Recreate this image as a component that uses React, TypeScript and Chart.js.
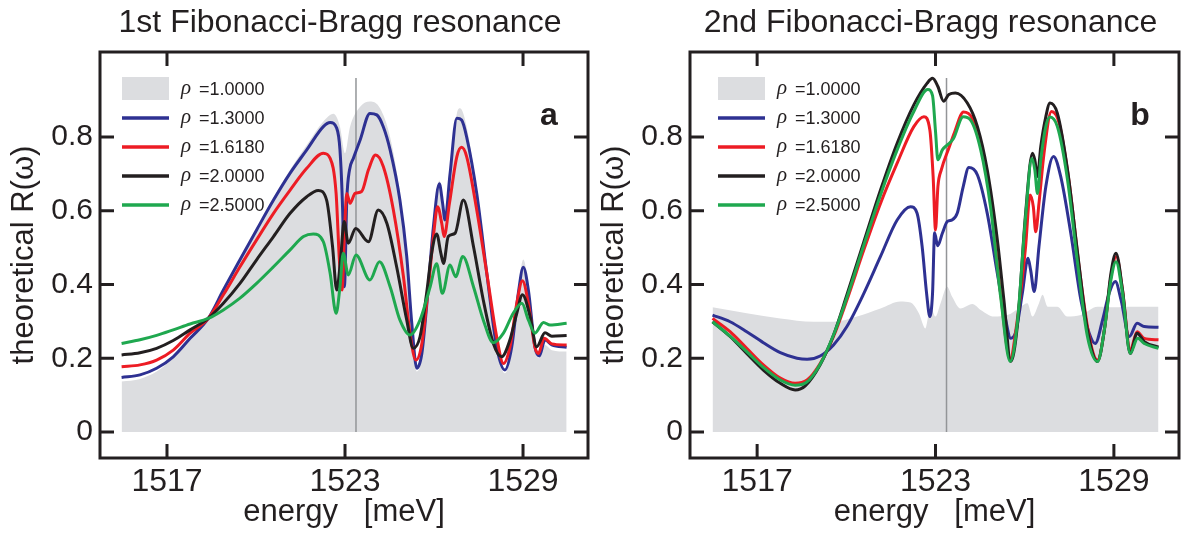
import React, { useEffect, useRef } from 'react';
import { Chart, registerables } from 'chart.js';

Chart.register(...registerables);

// ---------- data ----------
const rhoLabels = ['1.0000', '1.3000', '1.6180', '2.0000', '2.5000'];
const xTicks = [1517, 1523, 1529];
const yTicks = [0, 0.2, 0.4, 0.6, 0.8];
const markerEnergy = 1523.37;
const markerTop = 0.96;

type Pt = [number, number];

// panel a : 1st Fibonacci-Bragg resonance
const aGray: Pt[] = [[1515.47,0.137],[1516.09,0.144],[1516.65,0.164],[1517.21,0.200],[1517.78,0.251],[1518.39,0.311],[1518.90,0.387],[1519.46,0.469],[1520.02,0.552],[1520.59,0.636],[1521.15,0.711],[1521.71,0.778],[1522.27,0.842],[1522.61,0.863],[1522.83,0.828],[1523.00,0.756],[1523.17,0.828],[1523.51,0.882],[1523.84,0.896],[1524.18,0.878],[1524.52,0.800],[1524.85,0.647],[1525.08,0.485],[1525.25,0.295],[1525.42,0.164],[1525.59,0.204],[1525.75,0.340],[1525.98,0.561],[1526.18,0.682],[1526.37,0.589],[1526.54,0.711],[1526.77,0.864],[1526.88,0.878],[1527.10,0.828],[1527.44,0.656],[1527.78,0.435],[1528.11,0.231],[1528.39,0.159],[1528.62,0.227],[1528.84,0.385],[1529.01,0.468],[1529.18,0.394],[1529.40,0.227],[1529.55,0.200],[1529.74,0.236],[1529.97,0.222],[1530.47,0.218]];
const aBlue: Pt[] = [[1515.47,0.148],[1516.09,0.155],[1516.65,0.173],[1517.21,0.204],[1517.78,0.254],[1518.39,0.308],[1518.90,0.385],[1519.46,0.467],[1520.02,0.548],[1520.59,0.629],[1521.15,0.702],[1521.71,0.765],[1522.27,0.828],[1522.50,0.839],[1522.72,0.824],[1522.83,0.765],[1522.92,0.602],[1522.98,0.394],[1523.06,0.630],[1523.15,0.710],[1523.28,0.742],[1523.51,0.792],[1523.84,0.864],[1524.07,0.860],[1524.29,0.828],[1524.52,0.765],[1524.85,0.629],[1525.08,0.476],[1525.25,0.295],[1525.42,0.173],[1525.59,0.213],[1525.75,0.340],[1525.98,0.557],[1526.18,0.673],[1526.29,0.620],[1526.37,0.575],[1526.54,0.700],[1526.77,0.851],[1526.93,0.846],[1527.10,0.800],[1527.44,0.647],[1527.78,0.430],[1528.11,0.231],[1528.39,0.168],[1528.62,0.231],[1528.84,0.376],[1529.01,0.447],[1529.18,0.385],[1529.40,0.231],[1529.55,0.206],[1529.74,0.250],[1529.97,0.236],[1530.47,0.230]];
const aRed: Pt[] = [[1515.47,0.177],[1516.09,0.182],[1516.65,0.195],[1517.21,0.222],[1517.78,0.268],[1518.39,0.308],[1518.90,0.372],[1519.46,0.448],[1520.02,0.521],[1520.59,0.593],[1521.15,0.656],[1521.71,0.715],[1522.27,0.756],[1522.50,0.742],[1522.70,0.647],[1522.81,0.467],[1522.90,0.385],[1522.99,0.557],[1523.06,0.647],[1523.17,0.620],[1523.34,0.647],[1523.56,0.652],[1523.79,0.711],[1524.03,0.751],[1524.29,0.720],[1524.63,0.602],[1524.97,0.421],[1525.19,0.268],[1525.39,0.195],[1525.59,0.240],[1525.81,0.394],[1525.98,0.530],[1526.12,0.611],[1526.26,0.566],[1526.34,0.530],[1526.52,0.620],[1526.77,0.747],[1526.93,0.772],[1527.10,0.747],[1527.44,0.602],[1527.78,0.430],[1528.11,0.259],[1528.34,0.186],[1528.56,0.231],[1528.79,0.349],[1528.98,0.410],[1529.18,0.349],[1529.40,0.231],[1529.52,0.213],[1529.71,0.254],[1529.97,0.239],[1530.47,0.236]];
const aBlack: Pt[] = [[1515.47,0.209],[1516.09,0.215],[1516.65,0.227],[1517.21,0.248],[1517.78,0.277],[1518.39,0.308],[1518.90,0.349],[1519.46,0.403],[1520.02,0.467],[1520.59,0.530],[1521.15,0.593],[1521.71,0.638],[1522.10,0.655],[1522.38,0.629],[1522.58,0.503],[1522.72,0.385],[1522.85,0.467],[1522.97,0.571],[1523.11,0.512],[1523.36,0.552],[1523.79,0.516],[1524.12,0.602],[1524.41,0.566],[1524.74,0.448],[1525.08,0.304],[1525.30,0.227],[1525.53,0.259],[1525.75,0.376],[1525.92,0.485],[1526.09,0.537],[1526.23,0.485],[1526.32,0.457],[1526.48,0.530],[1526.71,0.539],[1526.99,0.629],[1527.33,0.503],[1527.66,0.358],[1528.00,0.240],[1528.28,0.204],[1528.56,0.250],[1528.79,0.322],[1528.98,0.372],[1529.24,0.313],[1529.46,0.231],[1529.74,0.269],[1529.97,0.260],[1530.47,0.262]];
const aGreen: Pt[] = [[1515.47,0.240],[1516.09,0.250],[1516.65,0.262],[1517.21,0.277],[1517.78,0.293],[1518.39,0.308],[1518.90,0.331],[1519.46,0.363],[1520.02,0.403],[1520.59,0.448],[1521.15,0.494],[1521.60,0.530],[1521.93,0.537],[1522.27,0.516],[1522.50,0.430],[1522.70,0.322],[1522.83,0.394],[1522.94,0.485],[1523.11,0.426],[1523.37,0.480],[1523.84,0.412],[1524.16,0.462],[1524.52,0.394],[1524.85,0.304],[1525.19,0.263],[1525.53,0.304],[1525.87,0.394],[1526.09,0.456],[1526.28,0.376],[1526.54,0.453],[1526.73,0.421],[1526.97,0.476],[1527.33,0.394],[1527.66,0.304],[1528.00,0.242],[1528.34,0.268],[1528.67,0.322],[1528.96,0.349],[1529.18,0.304],[1529.40,0.268],[1529.69,0.297],[1529.91,0.290],[1530.47,0.295]];

// panel b : 2nd Fibonacci-Bragg resonance
const bGray: Pt[] = [[1515.50,0.338],[1516.65,0.322],[1517.78,0.308],[1518.90,0.299],[1519.57,0.299],[1520.36,0.313],[1521.15,0.335],[1521.82,0.354],[1522.16,0.351],[1522.44,0.322],[1522.66,0.281],[1522.83,0.340],[1523.00,0.313],[1523.17,0.349],[1523.39,0.394],[1523.56,0.367],[1523.84,0.335],[1524.24,0.347],[1524.52,0.331],[1524.97,0.313],[1525.42,0.317],[1525.87,0.340],[1526.09,0.349],[1526.26,0.313],[1526.48,0.349],[1526.60,0.372],[1526.77,0.340],[1527.10,0.340],[1527.44,0.313],[1527.89,0.317],[1528.45,0.340],[1529.01,0.338],[1529.57,0.340],[1530.50,0.340]];
const bBlue: Pt[] = [[1515.50,0.317],[1516.09,0.299],[1516.65,0.272],[1517.21,0.242],[1517.78,0.215],[1518.34,0.200],[1518.68,0.197],[1519.12,0.206],[1519.57,0.236],[1520.02,0.286],[1520.59,0.376],[1521.15,0.476],[1521.71,0.575],[1522.16,0.611],[1522.38,0.593],[1522.55,0.503],[1522.70,0.376],[1522.81,0.313],[1522.90,0.376],[1522.97,0.540],[1523.07,0.505],[1523.23,0.539],[1523.40,0.571],[1523.56,0.575],[1523.73,0.593],[1523.93,0.665],[1524.12,0.717],[1524.41,0.697],[1524.74,0.593],[1525.08,0.430],[1525.36,0.304],[1525.53,0.254],[1525.70,0.272],[1525.92,0.376],[1526.11,0.471],[1526.20,0.439],[1526.32,0.381],[1526.48,0.503],[1526.71,0.665],[1526.97,0.747],[1527.21,0.693],[1527.55,0.539],[1527.89,0.358],[1528.17,0.268],[1528.37,0.240],[1528.62,0.304],[1528.84,0.376],[1529.05,0.408],[1529.24,0.358],[1529.52,0.259],[1529.78,0.295],[1530.02,0.286],[1530.50,0.284]];
const bRed: Pt[] = [[1515.50,0.308],[1516.09,0.272],[1516.65,0.227],[1517.21,0.182],[1517.78,0.146],[1518.28,0.132],[1518.68,0.141],[1519.12,0.186],[1519.57,0.259],[1520.02,0.358],[1520.59,0.494],[1521.15,0.620],[1521.71,0.729],[1522.27,0.828],[1522.61,0.855],[1522.81,0.819],[1522.92,0.693],[1523.00,0.548],[1523.08,0.665],[1523.20,0.712],[1523.45,0.770],[1523.65,0.815],[1523.94,0.868],[1524.24,0.851],[1524.52,0.783],[1524.85,0.629],[1525.19,0.376],[1525.51,0.200],[1525.75,0.304],[1526.03,0.503],[1526.18,0.643],[1526.29,0.611],[1526.37,0.543],[1526.48,0.620],[1526.65,0.756],[1526.90,0.869],[1527.16,0.837],[1527.50,0.674],[1527.83,0.448],[1528.17,0.259],[1528.45,0.195],[1528.68,0.277],[1528.90,0.421],[1529.08,0.476],[1529.29,0.385],[1529.55,0.222],[1529.78,0.272],[1530.02,0.254],[1530.50,0.250]];
const bBlack: Pt[] = [[1515.50,0.299],[1516.09,0.259],[1516.65,0.213],[1517.21,0.168],[1517.78,0.132],[1518.28,0.114],[1518.62,0.125],[1519.12,0.182],[1519.57,0.263],[1520.02,0.372],[1520.59,0.516],[1521.15,0.656],[1521.71,0.783],[1522.27,0.887],[1522.72,0.946],[1522.90,0.959],[1523.08,0.937],[1523.27,0.897],[1523.45,0.915],[1523.67,0.919],[1524.07,0.892],[1524.41,0.828],[1524.74,0.711],[1525.08,0.521],[1525.30,0.358],[1525.53,0.191],[1525.75,0.286],[1526.03,0.593],[1526.26,0.756],[1526.34,0.738],[1526.43,0.693],[1526.54,0.774],[1526.71,0.855],[1526.85,0.892],[1527.10,0.864],[1527.44,0.711],[1527.78,0.485],[1528.11,0.277],[1528.45,0.191],[1528.68,0.277],[1528.90,0.430],[1529.07,0.485],[1529.29,0.385],[1529.55,0.213],[1529.78,0.268],[1530.02,0.245],[1530.50,0.230]];
const bGreen: Pt[] = [[1515.50,0.299],[1516.09,0.260],[1516.65,0.218],[1517.21,0.175],[1517.78,0.141],[1518.28,0.127],[1518.65,0.134],[1519.12,0.184],[1519.57,0.263],[1520.02,0.365],[1520.59,0.507],[1521.15,0.643],[1521.71,0.765],[1522.27,0.869],[1522.74,0.929],[1522.90,0.912],[1523.00,0.815],[1523.08,0.738],[1523.23,0.765],[1523.42,0.780],[1523.60,0.795],[1523.93,0.855],[1524.18,0.846],[1524.52,0.765],[1524.85,0.611],[1525.19,0.367],[1525.51,0.191],[1525.75,0.295],[1526.03,0.584],[1526.24,0.742],[1526.34,0.711],[1526.43,0.647],[1526.54,0.738],[1526.71,0.828],[1526.85,0.854],[1527.10,0.828],[1527.44,0.684],[1527.78,0.457],[1528.11,0.259],[1528.45,0.191],[1528.68,0.277],[1528.90,0.412],[1529.07,0.462],[1529.29,0.376],[1529.55,0.213],[1529.80,0.254],[1530.02,0.240],[1530.50,0.227]];

// ---------- styles ----------
const FONT = '"Liberation Sans", Arial, Helvetica, sans-serif';
const INK = '#231f20';
const seriesColors = ['#dcdde0', '#2e3192', '#ed1c24', '#231f20', '#1fa84f'];
const markerColor = '#939598';
const CW = 593;
const CH = 533;

interface PanelDef {
  title: string;
  letter: string;
  series: Pt[][];
  areaLeft: number;
  areaRight: number;
  legendDx: number;
  textDx: number;
}

const panelA: PanelDef = {
  title: '1st Fibonacci-Bragg resonance',
  letter: 'a',
  series: [aGray, aBlue, aRed, aBlack, aGreen],
  areaLeft: 100,
  areaRight: 588,
  legendDx: 22,
  textDx: 81,
};
const panelB: PanelDef = {
  title: '2nd Fibonacci-Bragg resonance',
  letter: 'b',
  series: [bGray, bBlue, bRed, bBlack, bGreen],
  areaLeft: 97,
  areaRight: 586,
  legendDx: 28,
  textDx: 87,
};

const toPts = (arr: Pt[]) => arr.map(([x, y]) => ({ x, y }));

function decorPlugin(p: PanelDef) {
  return {
    id: 'decor',
    afterDatasetsDraw(chart: any) {
      const { ctx, chartArea: ca, scales } = chart;
      const xs = scales.x;
      const ys = scales.y;
      ctx.save();
      // frame
      ctx.strokeStyle = INK;
      ctx.lineWidth = 3;
      ctx.lineCap = 'butt';
      ctx.strokeRect(ca.left, ca.top, ca.right - ca.left, ca.bottom - ca.top);
      // inward ticks
      ctx.beginPath();
      for (const v of yTicks) {
        const py = ys.getPixelForValue(v);
        ctx.moveTo(ca.left, py);
        ctx.lineTo(ca.left + 14, py);
        ctx.moveTo(ca.right, py);
        ctx.lineTo(ca.right - 14, py);
      }
      for (const v of xTicks) {
        const px = xs.getPixelForValue(v);
        ctx.moveTo(px, ca.bottom);
        ctx.lineTo(px, ca.bottom - 14);
        ctx.moveTo(px, ca.top);
        ctx.lineTo(px, ca.top + 14);
      }
      ctx.stroke();

      // legend
      const lx = ca.left + p.legendDx;
      const tx = ca.left + p.textDx;
      const rowY = [88.5, 118, 147, 176, 205];
      for (let i = 0; i < rhoLabels.length; i++) {
        const yy = rowY[i];
        if (i === 0) {
          ctx.fillStyle = seriesColors[0];
          ctx.fillRect(lx, 77, 47, 23);
        } else {
          ctx.strokeStyle = seriesColors[i];
          ctx.lineWidth = 3.5;
          ctx.beginPath();
          ctx.moveTo(lx, yy);
          ctx.lineTo(lx + 47, yy);
          ctx.stroke();
        }
        ctx.fillStyle = INK;
        ctx.textBaseline = 'alphabetic';
        ctx.textAlign = 'left';
        ctx.font = 'italic 21px "Liberation Serif", "Times New Roman", serif';
        ctx.fillText('ρ', tx, yy + 5);
        ctx.font = `18px ${FONT}`;
        ctx.fillText('=' + rhoLabels[i], tx + 18, yy + 6);
      }

      // panel letter
      ctx.font = `bold 32px ${FONT}`;
      ctx.textAlign = 'center';
      ctx.fillStyle = INK;
      ctx.fillText(p.letter, ca.right - 39, 125);

      // title
      const cx = (ca.left + ca.right) / 2;
      ctx.font = `32px ${FONT}`;
      ctx.fillText(p.title, cx - 4, 32);

      // axis titles
      ctx.font = `31px ${FONT}`;
      ctx.fillText('energy   [meV]', cx, 521);
      ctx.save();
      ctx.translate(ca.left - 67, (ca.top + ca.bottom) / 2);
      ctx.rotate(-Math.PI / 2);
      ctx.fillText('theoretical R(ω)', 0, 0);
      ctx.restore();

      ctx.restore();
    },
  };
}

function makeConfig(p: PanelDef): any {
  const lineDs = (i: number, order: number) => ({
    label: 'ρ =' + rhoLabels[i],
    data: toPts(p.series[i]),
    borderColor: seriesColors[i],
    borderWidth: 3,
    pointRadius: 0,
    fill: false,
    cubicInterpolationMode: 'monotone',
    order,
  });
  return {
    type: 'line',
    data: {
      datasets: [
        {
          label: 'ρ =' + rhoLabels[0],
          data: toPts(p.series[0]),
          borderWidth: 0,
          borderColor: 'rgba(0,0,0,0)',
          backgroundColor: seriesColors[0],
          pointRadius: 0,
          fill: 'origin',
          cubicInterpolationMode: 'monotone',
          order: 10,
        },
        {
          label: 'marker',
          data: [
            { x: markerEnergy, y: 0 },
            { x: markerEnergy, y: markerTop },
          ],
          borderColor: markerColor,
          borderWidth: 1.5,
          pointRadius: 0,
          fill: false,
          order: 9,
        },
        lineDs(1, 5),
        lineDs(2, 4),
        lineDs(3, 3),
        lineDs(4, 2),
      ],
    },
    options: {
      responsive: false,
      maintainAspectRatio: false,
      animation: false,
      events: [],
      layout: { padding: { left: 0, right: CW - p.areaRight, top: 52, bottom: 0 } },
      plugins: {
        legend: { display: false },
        tooltip: { enabled: false },
        title: { display: false },
      },
      scales: {
        x: {
          type: 'linear',
          position: 'bottom',
          min: 1514.742,
          max: 1531.19,
          afterBuildTicks: (s: any) => {
            s.ticks = xTicks.map((v) => ({ value: v }));
          },
          afterFit: (s: any) => {
            s.height = 75;
          },
          grid: { display: false, drawTicks: false },
          border: { display: false },
          ticks: {
            padding: 8,
            autoSkip: false,
            maxRotation: 0,
            minRotation: 0,
            color: INK,
            font: { family: FONT, size: 32, lineHeight: 1 },
            callback: (v: any) => String(v),
          },
        },
        y: {
          type: 'linear',
          position: 'left',
          min: -0.0705,
          max: 1.0305,
          afterBuildTicks: (s: any) => {
            s.ticks = yTicks.map((v) => ({ value: v }));
          },
          afterFit: (s: any) => {
            s.width = p.areaLeft;
          },
          grid: { display: false, drawTicks: false },
          border: { display: false },
          ticks: {
            padding: 7,
            color: INK,
            font: { family: FONT, size: 30 },
            callback: (v: any) => (Number(v) === 0 ? '0' : Number(v).toFixed(1)),
          },
        },
      },
    },
    plugins: [decorPlugin(p)],
  };
}

export default function App() {
  const refA = useRef<HTMLCanvasElement>(null);
  const refB = useRef<HTMLCanvasElement>(null);

  useEffect(() => {
    const a = new Chart(refA.current as HTMLCanvasElement, makeConfig(panelA));
    const b = new Chart(refB.current as HTMLCanvasElement, makeConfig(panelB));
    return () => {
      a.destroy();
      b.destroy();
    };
  }, []);

  return (
    <div
      style={{
        position: 'fixed',
        left: 0,
        top: 0,
        width: 1186,
        height: 533,
        background: '#ffffff',
        overflow: 'hidden',
      }}
    >
      <canvas
        ref={refA}
        width={CW}
        height={CH}
        style={{ position: 'absolute', left: 0, top: 0, width: CW, height: CH }}
      />
      <canvas
        ref={refB}
        width={CW}
        height={CH}
        style={{ position: 'absolute', left: CW, top: 0, width: CW, height: CH }}
      />
    </div>
  );
}
